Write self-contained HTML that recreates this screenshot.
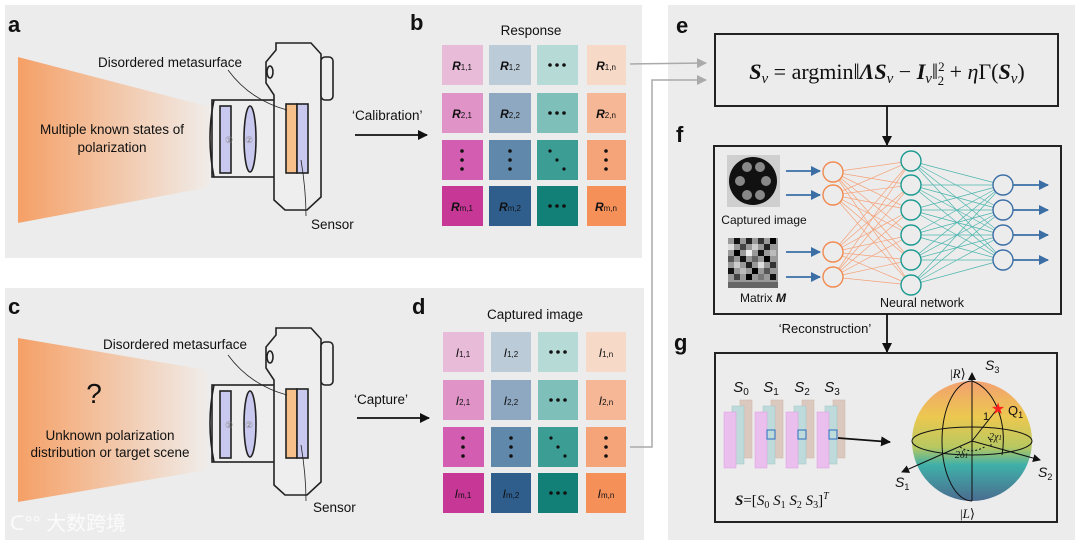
<!DOCTYPE html>
<html><head><meta charset="utf-8"><style>
html,body{margin:0;padding:0;background:#fff}
svg{display:block;fill:#111}
text{font-family:"Liberation Sans",sans-serif}
.lab{font-weight:bold;font-size:22px}
.serif{font-family:"Liberation Serif",serif}
</style></head><body>
<svg width="1080" height="546" viewBox="0 0 1080 546" xmlns="http://www.w3.org/2000/svg">
<defs>
<linearGradient id="beam" x1="0" x2="1" y1="0" y2="0"><stop offset="0" stop-color="#f5a066"/><stop offset="1" stop-color="#f0ece9"/></linearGradient>
<linearGradient id="sph" x1="0" x2="0" y1="0" y2="1"><stop offset="0" stop-color="#f2a070"/><stop offset="0.3" stop-color="#ecc850"/><stop offset="0.55" stop-color="#b8c860"/><stop offset="0.7" stop-color="#3fb0a8"/><stop offset="1" stop-color="#4a6c90"/></linearGradient>
<marker id="ab" markerWidth="8" markerHeight="8" refX="7" refY="4" orient="auto" markerUnits="userSpaceOnUse"><path d="M0,0 L8,4 L0,8 z" fill="#111"/></marker>
<marker id="ag" markerWidth="10" markerHeight="10" refX="9" refY="5" orient="auto" markerUnits="userSpaceOnUse"><path d="M0,0 L10,5 L0,10 z" fill="#aaa"/></marker>
<marker id="abl" markerWidth="10" markerHeight="10" refX="9" refY="5" orient="auto" markerUnits="userSpaceOnUse"><path d="M0,0 L10,5 L0,10 z" fill="#3a6ea5"/></marker>
<marker id="ak" markerWidth="10" markerHeight="10" refX="9" refY="5" orient="auto" markerUnits="userSpaceOnUse"><path d="M0,0 L10,5 L0,10 z" fill="#111"/></marker>
<g id="cam" fill="none" stroke="#222" stroke-width="1.6">
<rect x="212" y="100" width="63" height="77" fill="#eee"/>
<path d="M214,100 Q206,138 214,177" />
<rect x="220" y="106" width="11" height="67" fill="#c9c8ee"/>
<ellipse cx="250" cy="139" rx="6" ry="33" fill="#c9c8ee"/>
<path d="M276,43 L311,43 L321,54 L321,197 L307,210 L285,210 L274,200 L274,95 L266,83 L266,62 L276,50 Z" fill="#eee"/>
<ellipse cx="270" cy="72" rx="3" ry="6"/>
<rect x="321" y="57" width="12" height="43" rx="4" fill="#eee"/>
<rect x="286" y="104" width="11" height="69" fill="#f7c08a"/>
<rect x="297" y="104" width="11" height="69" fill="#c9c8ee"/>
<path d="M228,70 Q250,100 287,110" stroke-width="0.8"/>
<path d="M301,160 Q306,190 306,216" stroke-width="0.8"/>
</g>
</defs>

<rect x="5" y="5" width="637" height="253" fill="#ececec"/>
<rect x="5" y="288" width="639" height="252" fill="#ececec"/>
<rect x="668" y="5" width="407" height="535" fill="#ececec"/>

<!-- panel a -->
<text x="8" y="32" class="lab">a</text>
<polygon points="18,57 210,107 210,187 18,223" fill="url(#beam)"/>
<text x="112" y="134" font-size="13.5" text-anchor="middle">Multiple known states of</text>
<text x="112" y="152" font-size="13.5" text-anchor="middle">polarization</text>
<use href="#cam"/>
<text x="170" y="67" font-size="13.5" text-anchor="middle">Disordered metasurface</text>
<text x="311" y="229" font-size="13.5">Sensor</text>
<text x="225" y="143" font-size="9" fill="#888">①</text>
<text x="245" y="143" font-size="9" fill="#888">②</text>
<text x="352" y="120" font-size="13.5">‘Calibration’</text>
<line x1="355" y1="135" x2="427" y2="135" stroke="#111" stroke-width="1.8" marker-end="url(#ak)"/>

<!-- panel b -->
<text x="410" y="30" class="lab">b</text>
<text x="531" y="35" font-size="13.5" text-anchor="middle">Response</text>
<g>
<rect x="442" y="45" width="41" height="40" fill="#e8bcd8"/><rect x="489" y="45" width="42" height="40" fill="#bccbd8"/><rect x="537" y="45" width="41" height="40" fill="#b6dbd7"/><rect x="587" y="45" width="39" height="40" fill="#f7d9c8"/>
<rect x="442" y="93" width="41" height="40" fill="#df93c7"/><rect x="489" y="93" width="42" height="40" fill="#8ea8c1"/><rect x="537" y="93" width="41" height="40" fill="#7fbfba"/><rect x="587" y="93" width="39" height="40" fill="#f6b796"/>
<rect x="442" y="140" width="41" height="40" fill="#d35db0"/><rect x="489" y="140" width="42" height="40" fill="#6088ab"/><rect x="537" y="140" width="41" height="40" fill="#3b9d94"/><rect x="587" y="140" width="39" height="40" fill="#f5a47a"/>
<rect x="442" y="186" width="41" height="40" fill="#c63796"/><rect x="489" y="186" width="42" height="40" fill="#2f5e8d"/><rect x="537" y="186" width="41" height="40" fill="#138078"/><rect x="587" y="186" width="39" height="40" fill="#f69059"/>
</g>
<g font-size="12" font-weight="bold" font-style="italic" text-anchor="middle">
<text x="462" y="70">R<tspan font-size="8" font-style="normal" font-weight="normal">1,1</tspan></text>
<text x="510" y="70">R<tspan font-size="8" font-style="normal" font-weight="normal">1,2</tspan></text>
<text x="606" y="70">R<tspan font-size="8" font-style="normal" font-weight="normal">1,n</tspan></text>
<text x="462" y="118">R<tspan font-size="8" font-style="normal" font-weight="normal">2,1</tspan></text>
<text x="510" y="118">R<tspan font-size="8" font-style="normal" font-weight="normal">2,2</tspan></text>
<text x="606" y="118">R<tspan font-size="8" font-style="normal" font-weight="normal">2,n</tspan></text>
<text x="462" y="211">R<tspan font-size="8" font-style="normal" font-weight="normal">m,1</tspan></text>
<text x="510" y="211">R<tspan font-size="8" font-style="normal" font-weight="normal">m,2</tspan></text>
<text x="606" y="211">R<tspan font-size="8" font-style="normal" font-weight="normal">m,n</tspan></text>
</g>
<g fill="#111">
<circle cx="550" cy="65" r="1.8"/><circle cx="557" cy="65" r="1.8"/><circle cx="564" cy="65" r="1.8"/>
<circle cx="550" cy="113" r="1.8"/><circle cx="557" cy="113" r="1.8"/><circle cx="564" cy="113" r="1.8"/>
<circle cx="550" cy="206" r="1.8"/><circle cx="557" cy="206" r="1.8"/><circle cx="564" cy="206" r="1.8"/>
<circle cx="462" cy="151" r="1.8"/><circle cx="462" cy="160" r="1.8"/><circle cx="462" cy="169" r="1.8"/>
<circle cx="510" cy="151" r="1.8"/><circle cx="510" cy="160" r="1.8"/><circle cx="510" cy="169" r="1.8"/>
<circle cx="606" cy="151" r="1.8"/><circle cx="606" cy="160" r="1.8"/><circle cx="606" cy="169" r="1.8"/>
<circle cx="550" cy="151" r="1.6"/><circle cx="557" cy="160" r="1.6"/><circle cx="564" cy="169" r="1.6"/>
</g>

<!-- panel c -->
<text x="8" y="314" class="lab">c</text>
<polygon points="18,338 207,370 207,470 18,502" fill="url(#beam)"/>
<text x="94" y="403" font-size="28" text-anchor="middle">?</text>
<text x="110" y="440" font-size="13.5" text-anchor="middle">Unknown polarization</text>
<text x="110" y="457" font-size="13.5" text-anchor="middle">distribution or target scene</text>
<g transform="translate(0,285)"><use href="#cam"/>
<text x="225" y="143" font-size="9" fill="#888">①</text>
<text x="245" y="143" font-size="9" fill="#888">②</text>
</g>
<text x="175" y="349" font-size="13.5" text-anchor="middle">Disordered metasurface</text>
<text x="313" y="512" font-size="13.5">Sensor</text>
<text x="354" y="404" font-size="13.5">‘Capture’</text>
<line x1="357" y1="418" x2="429" y2="418" stroke="#111" stroke-width="1.8" marker-end="url(#ak)"/>

<!-- panel d -->
<text x="412" y="314" class="lab">d</text>
<text x="535" y="319" font-size="13.5" text-anchor="middle">Captured image</text>
<g>
<rect x="443" y="332" width="41" height="40" fill="#e8bcd8"/><rect x="491" y="332" width="40" height="40" fill="#bccbd8"/><rect x="538" y="332" width="40" height="40" fill="#b6dbd7"/><rect x="586" y="332" width="40" height="40" fill="#f7d9c8"/>
<rect x="443" y="380" width="41" height="40" fill="#df93c7"/><rect x="491" y="380" width="40" height="40" fill="#8ea8c1"/><rect x="538" y="380" width="40" height="40" fill="#7fbfba"/><rect x="586" y="380" width="40" height="40" fill="#f6b796"/>
<rect x="443" y="427" width="41" height="40" fill="#d35db0"/><rect x="491" y="427" width="40" height="40" fill="#6088ab"/><rect x="538" y="427" width="40" height="40" fill="#3b9d94"/><rect x="586" y="427" width="40" height="40" fill="#f5a47a"/>
<rect x="443" y="473" width="41" height="40" fill="#c63796"/><rect x="491" y="473" width="40" height="40" fill="#2f5e8d"/><rect x="538" y="473" width="40" height="40" fill="#138078"/><rect x="586" y="473" width="40" height="40" fill="#f69059"/>
</g>
<g font-size="12" font-style="italic" text-anchor="middle">
<text x="463" y="357">I<tspan font-size="8" font-style="normal">1,1</tspan></text>
<text x="511" y="357">I<tspan font-size="8" font-style="normal">1,2</tspan></text>
<text x="606" y="357">I<tspan font-size="8" font-style="normal">1,n</tspan></text>
<text x="463" y="405">I<tspan font-size="8" font-style="normal">2,1</tspan></text>
<text x="511" y="405">I<tspan font-size="8" font-style="normal">2,2</tspan></text>
<text x="606" y="405">I<tspan font-size="8" font-style="normal">2,n</tspan></text>
<text x="463" y="498">I<tspan font-size="8" font-style="normal">m,1</tspan></text>
<text x="511" y="498">I<tspan font-size="8" font-style="normal">m,2</tspan></text>
<text x="606" y="498">I<tspan font-size="8" font-style="normal">m,n</tspan></text>
</g>
<g fill="#111">
<circle cx="551" cy="352" r="1.8"/><circle cx="558" cy="352" r="1.8"/><circle cx="565" cy="352" r="1.8"/>
<circle cx="551" cy="400" r="1.8"/><circle cx="558" cy="400" r="1.8"/><circle cx="565" cy="400" r="1.8"/>
<circle cx="551" cy="493" r="1.8"/><circle cx="558" cy="493" r="1.8"/><circle cx="565" cy="493" r="1.8"/>
<circle cx="463" cy="438" r="1.8"/><circle cx="463" cy="447" r="1.8"/><circle cx="463" cy="456" r="1.8"/>
<circle cx="511" cy="438" r="1.8"/><circle cx="511" cy="447" r="1.8"/><circle cx="511" cy="456" r="1.8"/>
<circle cx="606" cy="438" r="1.8"/><circle cx="606" cy="447" r="1.8"/><circle cx="606" cy="456" r="1.8"/>
<circle cx="551" cy="438" r="1.6"/><circle cx="558" cy="447" r="1.6"/><circle cx="565" cy="456" r="1.6"/>
</g>

<polyline points="630,64 706,63" fill="none" stroke="#aaa" stroke-width="1.5" marker-end="url(#ag)"/>
<polyline points="630,447 652,447 652,80 706,80" fill="none" stroke="#aaa" stroke-width="1.5" marker-end="url(#ag)"/>

<!-- panel e -->
<text x="676" y="33" class="lab">e</text>
<rect x="715" y="34" width="343" height="72" fill="none" stroke="#222" stroke-width="2"/>
<text x="887" y="79" font-size="22" text-anchor="middle" class="serif"><tspan font-weight="bold" font-style="italic">S</tspan><tspan font-style="italic" font-size="15" dy="4">v</tspan><tspan dy="-4"> = argmin‖</tspan><tspan font-weight="bold" font-style="italic">ΛS</tspan><tspan font-style="italic" font-size="15" dy="4">v</tspan><tspan dy="-4"> − </tspan><tspan font-weight="bold" font-style="italic">I</tspan><tspan font-style="italic" font-size="15" dy="4">v</tspan><tspan dy="-4">‖</tspan><tspan font-size="13" dy="-8">2</tspan><tspan font-size="13" dx="-7" dy="14">2</tspan><tspan dy="-6"> + </tspan><tspan font-style="italic">η</tspan><tspan>Γ(</tspan><tspan font-weight="bold" font-style="italic">S</tspan><tspan font-style="italic" font-size="15" dy="4">v</tspan><tspan dy="-4">)</tspan></text>
<line x1="887" y1="106" x2="887" y2="145" stroke="#111" stroke-width="1.8" marker-end="url(#ak)"/>

<!-- panel f -->
<text x="676" y="142" class="lab">f</text>
<rect x="714" y="146" width="347" height="168" fill="none" stroke="#222" stroke-width="2"/>
<rect x="727" y="155" width="53" height="52" fill="#cfcfcf"/>
<circle cx="753" cy="181" r="24" fill="#111"/>
<g fill="#888"><circle cx="747" cy="167" r="5"/><circle cx="760" cy="167" r="5"/><circle cx="740" cy="181" r="5"/><circle cx="766" cy="181" r="5"/><circle cx="747" cy="195" r="5"/><circle cx="760" cy="195" r="5"/></g>
<text x="764" y="224" font-size="12" text-anchor="middle">Captured image</text>
<g>
<rect x="728" y="238" width="50" height="50" fill="#999"/>
<rect x="734" y="238" width="6" height="6" fill="#111"/><rect x="746" y="238" width="6" height="6" fill="#222"/><rect x="758" y="238" width="6" height="6" fill="#333"/><rect x="770" y="238" width="6" height="6" fill="#000"/>
<rect x="728" y="244" width="6" height="6" fill="#ddd"/><rect x="740" y="244" width="6" height="6" fill="#444"/><rect x="752" y="244" width="6" height="6" fill="#ccc"/><rect x="764" y="244" width="6" height="6" fill="#222"/>
<rect x="734" y="250" width="6" height="6" fill="#000"/><rect x="746" y="250" width="6" height="6" fill="#eee"/><rect x="758" y="250" width="6" height="6" fill="#111"/><rect x="770" y="250" width="6" height="6" fill="#bbb"/>
<rect x="728" y="256" width="6" height="6" fill="#555"/><rect x="740" y="256" width="6" height="6" fill="#111"/><rect x="752" y="256" width="6" height="6" fill="#666"/><rect x="764" y="256" width="6" height="6" fill="#000"/>
<rect x="734" y="262" width="6" height="6" fill="#ccc"/><rect x="746" y="262" width="6" height="6" fill="#222"/><rect x="758" y="262" width="6" height="6" fill="#ddd"/><rect x="770" y="262" width="6" height="6" fill="#333"/>
<rect x="728" y="268" width="6" height="6" fill="#111"/><rect x="740" y="268" width="6" height="6" fill="#bbb"/><rect x="752" y="268" width="6" height="6" fill="#000"/><rect x="764" y="268" width="6" height="6" fill="#555"/>
<rect x="734" y="274" width="6" height="6" fill="#444"/><rect x="746" y="274" width="6" height="6" fill="#000"/><rect x="758" y="274" width="6" height="6" fill="#777"/><rect x="770" y="274" width="6" height="6" fill="#111"/>
<rect x="728" y="282" width="50" height="6" fill="#666"/>
</g>
<text x="763" y="302" font-size="12" text-anchor="middle">Matrix <tspan font-weight="bold" font-style="italic">M</tspan></text>
<g stroke="#3a6ea5" stroke-width="1.8" marker-end="url(#abl)">
<line x1="786" y1="171" x2="820" y2="171"/><line x1="786" y1="195" x2="820" y2="195"/><line x1="786" y1="252" x2="820" y2="252"/><line x1="786" y1="277" x2="820" y2="277"/>
<line x1="1013" y1="185" x2="1048" y2="185"/><line x1="1013" y1="210" x2="1048" y2="210"/><line x1="1013" y1="235" x2="1048" y2="235"/><line x1="1013" y1="260" x2="1048" y2="260"/>
</g>
<g stroke="#f4a27a" stroke-width="0.7">
<path d="M833,172L911,161M833,172L911,185M833,172L911,210M833,172L911,235M833,172L911,260M833,172L911,285
M833,195L911,161M833,195L911,185M833,195L911,210M833,195L911,235M833,195L911,260M833,195L911,285
M833,252L911,161M833,252L911,185M833,252L911,210M833,252L911,235M833,252L911,260M833,252L911,285
M833,277L911,161M833,277L911,185M833,277L911,210M833,277L911,235M833,277L911,260M833,277L911,285"/>
</g>
<g stroke="#4cb5ad" stroke-width="0.7">
<path d="M911,161L1003,185M911,161L1003,210M911,161L1003,235M911,161L1003,260
M911,185L1003,185M911,185L1003,210M911,185L1003,235M911,185L1003,260
M911,210L1003,185M911,210L1003,210M911,210L1003,235M911,210L1003,260
M911,235L1003,185M911,235L1003,210M911,235L1003,235M911,235L1003,260
M911,260L1003,185M911,260L1003,210M911,260L1003,235M911,260L1003,260
M911,285L1003,185M911,285L1003,210M911,285L1003,235M911,285L1003,260"/>
</g>
<g fill="#ececec" stroke="#f08a50" stroke-width="1.4"><circle cx="833" cy="172" r="10"/><circle cx="833" cy="195" r="10"/><circle cx="833" cy="252" r="10"/><circle cx="833" cy="277" r="10"/></g>
<g fill="#ececec" stroke="#1a9a90" stroke-width="1.4"><circle cx="911" cy="161" r="10"/><circle cx="911" cy="185" r="10"/><circle cx="911" cy="210" r="10"/><circle cx="911" cy="235" r="10"/><circle cx="911" cy="260" r="10"/><circle cx="911" cy="285" r="10"/></g>
<g fill="#ececec" stroke="#3a6ea5" stroke-width="1.4"><circle cx="1003" cy="185" r="10"/><circle cx="1003" cy="210" r="10"/><circle cx="1003" cy="235" r="10"/><circle cx="1003" cy="260" r="10"/></g>
<text x="922" y="307" font-size="12.5" text-anchor="middle">Neural network</text>
<line x1="887" y1="314" x2="887" y2="352" stroke="#111" stroke-width="1.8" marker-end="url(#ak)"/>
<text x="825" y="333" font-size="13" text-anchor="middle">‘Reconstruction’</text>

<!-- panel g -->
<text x="674" y="350" class="lab">g</text>
<rect x="715" y="353" width="342" height="169" fill="none" stroke="#222" stroke-width="2"/>
<g font-size="15" font-style="italic" text-anchor="middle">
<text x="741" y="392">S<tspan font-size="10" font-style="normal" dy="3">0</tspan></text>
<text x="771" y="392">S<tspan font-size="10" font-style="normal" dy="3">1</tspan></text>
<text x="802" y="392">S<tspan font-size="10" font-style="normal" dy="3">2</tspan></text>
<text x="832" y="392">S<tspan font-size="10" font-style="normal" dy="3">3</tspan></text>
</g>
<g opacity="0.85">
<g id="stk">
<rect x="740" y="400" width="12" height="58" fill="#d9c4b8" stroke="#c8aa98" stroke-width="0.5"/>
<rect x="732" y="406" width="12" height="58" fill="#b8d8d8" stroke="#90c0c0" stroke-width="0.5"/>
<rect x="724" y="412" width="12" height="56" fill="#eab8ee" stroke="#d890e0" stroke-width="0.5"/>
</g>
<use href="#stk" transform="translate(31,0)"/>
<use href="#stk" transform="translate(62,0)"/>
<use href="#stk" transform="translate(93,0)"/>
</g>
<g fill="none" stroke="#2a6fc0" stroke-width="1"><rect x="767" y="430" width="8" height="9"/><rect x="798" y="430" width="8" height="9"/><rect x="829" y="430" width="8" height="9"/></g>
<line x1="838" y1="438" x2="890" y2="442" stroke="#111" stroke-width="1.8" marker-end="url(#ak)"/>
<text x="735" y="505" font-size="15" class="serif"><tspan font-weight="bold" font-style="italic">S</tspan>=[<tspan font-style="italic">S</tspan><tspan font-size="10" dy="3">0</tspan><tspan dy="-3"> </tspan><tspan font-style="italic">S</tspan><tspan font-size="10" dy="3">1</tspan><tspan dy="-3"> </tspan><tspan font-style="italic">S</tspan><tspan font-size="10" dy="3">2</tspan><tspan dy="-3"> </tspan><tspan font-style="italic">S</tspan><tspan font-size="10" dy="3">3</tspan><tspan dy="-3">]</tspan><tspan font-size="10" font-style="italic" dy="-6">T</tspan></text>

<circle cx="972" cy="441" r="60" fill="url(#sph)"/>
<g fill="none" stroke="#111" stroke-width="1">
<ellipse cx="972" cy="441" rx="60" ry="14"/>
<path d="M972,381 A30,60 0 0 0 972,501"/>
<path d="M972,381 A40,60 0 0 1 1002,455"/>
<line x1="972" y1="501" x2="972" y2="377"/>
<line x1="972" y1="441" x2="998" y2="408"/>
<line x1="972" y1="441" x2="1040" y2="460" marker-end="url(#ab)"/>
<line x1="972" y1="441" x2="902" y2="472" marker-end="url(#ab)"/>
<line x1="972" y1="441" x2="972" y2="373" marker-end="url(#ab)"/>
<path d="M960,447 Q972,455 986,446" stroke-dasharray="2,2"/>
<path d="M988,437 Q993,442 990,448" stroke-dasharray="2,2"/>
</g>
<text x="998" y="414" font-size="16" fill="#ff2020" text-anchor="middle">★</text>
<text x="1008" y="415" font-size="13">Q<tspan font-size="9" dy="3">1</tspan></text>
<text x="983" y="420" font-size="11">1</text>
<text x="989" y="440" font-size="10" font-style="italic" class="serif">2χ<tspan font-size="7">1</tspan></text>
<text x="955" y="458" font-size="10" font-style="italic" class="serif">2δ<tspan font-size="7">1</tspan></text>
<text x="985" y="370" font-size="14" font-style="italic">S<tspan font-size="9" font-style="normal" dy="3">3</tspan></text>
<text x="950" y="378" font-size="13" class="serif">|<tspan font-style="italic">R</tspan>⟩</text>
<text x="960" y="518" font-size="13" class="serif">|<tspan font-style="italic">L</tspan>⟩</text>
<text x="895" y="487" font-size="14" font-style="italic">S<tspan font-size="9" font-style="normal" dy="3">1</tspan></text>
<text x="1038" y="477" font-size="14" font-style="italic">S<tspan font-size="9" font-style="normal" dy="3">2</tspan></text>

<text x="10" y="530" font-size="20" fill="#fbfbfb" font-family="'Liberation Sans','Noto Sans CJK SC',sans-serif">ᑕ°° 大数跨境</text>
</svg>
</body></html>
